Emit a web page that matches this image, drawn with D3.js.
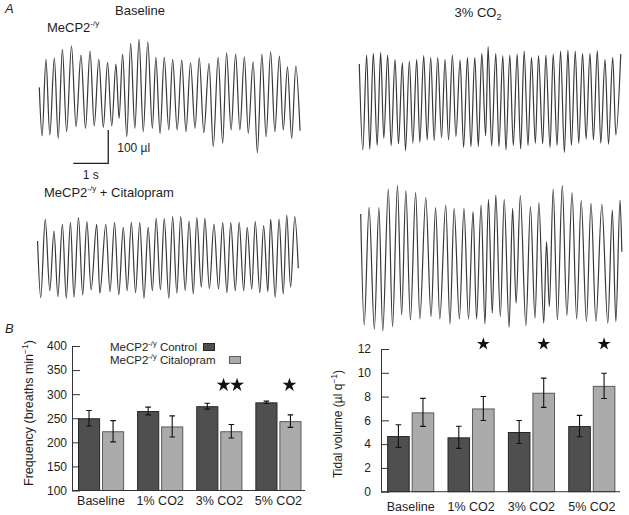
<!DOCTYPE html>
<html><head><meta charset="utf-8">
<script src="https://cdn.jsdelivr.net/npm/d3@7"></script>
<style>
body{margin:0;background:#fff}
svg{display:block}
text{font-family:"Liberation Sans",Arial,Helvetica,sans-serif;fill:#1e1e1e}
</style>
</head><body>
<svg id="c" width="629" height="515"></svg>
<script>
// ---------- Panel B data ----------
const categories = ["Baseline", "1% CO2", "3% CO2", "5% CO2"];
const groups = ["Control", "Citalopram"];
const freqControl = [250, 265, 275, 283];
const freqControlErr = [16, 8, 6, 2.5];
const freqCitalopram = [223, 233, 223, 244];
const freqCitalopramErr = [22, 22, 14, 13];
const vtControl = [4.68, 4.57, 5.02, 5.52];
const vtControlErr = [0.95, 0.93, 0.97, 0.9];
const vtCitalopram = [6.67, 7.0, 8.32, 8.9];
const vtCitalopramErr = [1.18, 1.01, 1.23, 1.06];
const freqTicks = [100, 150, 200, 250, 300, 350, 400];
const vtTicks = [0, 2, 4, 6, 8, 10, 12];
const freqStars = [0, 0, 2, 1];   // significance stars above citalopram bars
const vtStars = [0, 1, 1, 1];

// ---------- Panel A data: breathing traces (time s, volume µl at each extremum) ----------
const trace1T = [0.00,0.08,0.19,0.30,0.43,0.54,0.66,0.78,0.92,1.05,1.19,1.32,1.45,1.57,1.70,1.83,1.95,2.07,2.19,2.28,2.38,2.50,2.61,2.73,2.85,2.97,3.10,3.23,3.33,3.45,3.57,3.70,3.81,3.94,4.07,4.19,4.32,4.45,4.57,4.70,4.85,4.97,5.11,5.24,5.35,5.48,5.61,5.73,5.86,5.97,6.11,6.23,6.36,6.48,6.61,6.73,6.86,6.97,7.09,7.21,7.33,7.45];
const trace1V = [28,-118,112,-115,117,-125,142,-105,153,-90,125,-95,137,-88,112,-92,103,-88,98,-65,128,-120,160,-95,172,-105,165,-95,118,-110,118,-100,112,-100,110,-105,102,-95,117,-108,100,-150,118,-140,132,-100,128,-100,120,-110,105,-168,128,-120,135,-105,122,-100,90,-125,92,-102];

const trace2T = [0.00,0.10,0.21,0.30,0.40,0.51,0.61,0.70,0.81,0.91,1.02,1.12,1.23,1.32,1.43,1.53,1.64,1.73,1.84,1.94,2.04,2.14,2.24,2.35,2.45,2.55,2.66,2.76,2.88,2.98,3.09,3.19,3.30,3.40,3.50,3.61,3.68,3.78,3.90,3.99,4.10,4.19,4.30,4.40,4.51,4.61,4.71,4.82,4.92,5.03,5.12,5.24,5.33,5.45,5.54,5.65,5.75,5.86,5.96,6.06,6.17,6.27,6.38,6.48,6.59,6.69,6.80,6.90,7.02,7.12,7.24,7.33,7.47];
const trace2V = [108,-150,135,-148,140,-137,143,-115,135,-137,122,-132,112,-152,117,-130,122,-127,133,-120,128,-122,128,-113,122,-120,135,-110,120,-143,128,-140,128,-140,140,-108,160,-138,140,-140,133,-150,135,-137,138,-147,147,-137,128,-130,133,-132,135,-143,138,-137,147,-158,150,-137,147,-130,140,-118,140,-120,148,-130,122,-133,128,-105,138];

const trace3T = [-0.05,0.04,0.17,0.30,0.42,0.53,0.66,0.77,0.89,0.99,1.12,1.24,1.36,1.48,1.64,1.73,1.90,2.02,2.15,2.27,2.40,2.51,2.63,2.75,2.87,2.99,3.11,3.23,3.34,3.46,3.57,3.70,3.81,3.93,4.04,4.17,4.28,4.40,4.50,4.63,4.73,4.86,4.99,5.12,5.24,5.36,5.47,5.60,5.71,5.84,5.94,6.07,6.17,6.30,6.41,6.53,6.61,6.74,6.85,6.97,7.07,7.18,7.30,7.40];
const trace3V = [52,-118,117,-97,82,-115,102,-120,108,-117,122,-110,110,-95,102,-105,102,-100,107,-110,93,-97,108,-103,107,-120,93,-97,120,-95,119,-120,125,-105,125,-97,112,-107,122,-87,120,-91,103,-92,107,-103,107,-97,108,-97,93,-93,110,-103,98,-100,117,-117,118,-107,130,-87,125,-30];

const trace4T = [0.04,0.14,0.28,0.43,0.56,0.67,0.83,0.95,1.09,1.21,1.33,1.46,1.61,1.73,1.90,2.05,2.18,2.30,2.47,2.59,2.71,2.86,2.99,3.12,3.25,3.35,3.48,3.59,3.69,3.80,3.90,4.03,4.14,4.28,4.38,4.48,4.60,4.76,4.89,5.02,5.13,5.27,5.35,5.43,5.54,5.66,5.80,5.93,6.08,6.21,6.34,6.49,6.62,6.76,6.93,7.10,7.23,7.33,7.45,7.50];
const trace4V = [133,-200,153,-213,152,-218,207,-205,218,-170,203,-185,197,-182,182,-175,152,-182,160,-197,150,-182,150,-183,140,-182,160,-197,177,-165,190,-175,177,-207,150,-135,188,-202,155,-180,167,-195,50,-145,208,-185,218,-172,197,-182,173,-190,165,-190,162,-195,145,-190,175,20];

const scaleBarSeconds = 1;
const scaleBarVolume = 100;

// ---------- drawing ----------
const svg = d3.select("#c");
const FONT = 13;

// Panel A
const txL = d3.scaleLinear().domain([0, 7.5]).range([39.3, 301.8]);
const txR = d3.scaleLinear().domain([0, 7.5]).range([359.3, 621.8]);
function vScale(mid) { return d3.scaleLinear().domain([0, 100]).range([mid, mid - 33.3]); }
const traces = [
  {T: trace1T, V: trace1V, x: txL, y: vScale(96.7)},
  {T: trace2T, V: trace2V, x: txR, y: vScale(100)},
  {T: trace3T, V: trace3V, x: txL, y: vScale(258.3)},
  {T: trace4T, V: trace4V, x: txR, y: vScale(258.3)}
];
traces.forEach(tr => {
  const n = Math.min(tr.T.length, tr.V.length);
  const pts = d3.range(n).map(i => [tr.T[i], tr.V[i]]);
  const line = d3.line().x(d => tr.x(d[0])).y(d => tr.y(d[1])).curve(d3.curveMonotoneX);
  svg.append("path").attr("d", line(pts)).attr("fill", "none")
    .attr("stroke", "#383838").attr("stroke-width", 1.2).attr("stroke-linejoin", "round");
});

// scale bar (uses trace-1 scales)
{
  const ys = traces[0].y;
  const sbx = txL(1.97), sbyBottom = 163.3;
  const hLen = txL(scaleBarSeconds) - txL(0);
  const vLen = ys(0) - ys(scaleBarVolume);
  svg.append("path").attr("d", `M${sbx - hLen},${sbyBottom}H${sbx}V${sbyBottom - vLen}`)
    .attr("fill", "none").attr("stroke", "#222").attr("stroke-width", 1.3);
  svg.append("text").attr("x", sbx + 9).attr("y", 152).attr("font-size", 12).text("100 µl");
  svg.append("text").attr("x", sbx - hLen / 2).attr("y", 179).attr("font-size", 12)
    .attr("text-anchor", "middle").text("1 s");
}

// Panel A labels
svg.append("text").attr("x", 5).attr("y", 13).attr("font-size", FONT).attr("font-style", "italic").text("A");
svg.append("text").attr("x", 115).attr("y", 15).attr("font-size", FONT).text("Baseline");
{
  const t = svg.append("text").attr("x", 478).attr("y", 17).attr("font-size", FONT).attr("text-anchor", "middle");
  t.append("tspan").text("3% CO");
  t.append("tspan").attr("dy", 3).attr("font-size", 9).text("2");
}
{
  const t = svg.append("text").attr("x", 47).attr("y", 32).attr("font-size", FONT);
  t.append("tspan").text("MeCP2");
  t.append("tspan").attr("dy", -6).attr("font-size", 8).text("-/y");
}
{
  const t = svg.append("text").attr("x", 44).attr("y", 196.5).attr("font-size", FONT);
  t.append("tspan").text("MeCP2");
  t.append("tspan").attr("dy", -6).attr("font-size", 8).text("-/y");
  t.append("tspan").attr("dy", 6).text(" + Citalopram");
}
svg.append("text").attr("x", 5).attr("y", 333).attr("font-size", FONT).attr("font-style", "italic").text("B");

// Panel B bar charts
const colControl = "#4f4f4f", colCit = "#ababab";
function barChart(o) {
  const g = svg.append("g");
  const x = d3.scaleBand().domain(categories).range(o.xr).padding(0);
  const sub = d3.scaleBand().domain(groups).range([0, x.bandwidth()]).paddingInner(0.08).paddingOuter(0.27);
  const y = o.y;
  const series = [
    {key: "Control", v: o.ctrl, e: o.ctrlErr, fill: colControl, stroke: "#262626"},
    {key: "Citalopram", v: o.cit, e: o.citErr, fill: colCit, stroke: "#5a5a5a"}
  ];
  const base = y.domain()[0];
  series.forEach(s => {
    categories.forEach((c, i) => {
      const bx = x(c) + sub(s.key), bw = sub.bandwidth();
      g.append("rect").attr("x", bx + 0.5).attr("y", y(s.v[i]) + 0.5)
        .attr("width", bw - 1).attr("height", y(base) - y(s.v[i]) - 0.5)
        .attr("fill", s.fill).attr("stroke", s.stroke).attr("stroke-width", 1);
      const cx = bx + bw / 2;
      const yt = y(s.v[i] + s.e[i]), yb = y(s.v[i] - s.e[i]);
      g.append("path").attr("d", `M${cx},${yt}V${yb}M${cx - 2.8},${yt}H${cx + 2.8}M${cx - 2.8},${yb}H${cx + 2.8}`)
        .attr("stroke", "#111").attr("stroke-width", 1.1).attr("fill", "none");
    });
  });
  // stars
  categories.forEach((c, i) => {
    const n = o.stars[i];
    if (!n) return;
    const cx = x(c) + sub("Citalopram") + sub.bandwidth() / 2 + o.starDx;
    for (let k = 0; k < n; k++) {
      const sx = cx + (k - (n - 1) / 2) * 13.5;
      g.append("path").attr("d", d3.symbol().type(d3.symbolStar).size(o.starSize)())
        .attr("transform", `translate(${sx},${o.starY})`).attr("fill", "#111");
    }
  });
  // y axis
  const ax = g.append("g").attr("transform", `translate(${o.xr[0] + 0.5},0)`)
    .call(d3.axisLeft(y).tickValues(o.ticks).tickSizeInner(-8).tickSizeOuter(0).tickPadding(o.tickPad));
  ax.select(".domain").attr("stroke", "#333");
  ax.selectAll(".tick line").attr("stroke", "#333");
  ax.selectAll(".tick text").attr("font-size", 12).attr("font-family", "Liberation Sans, Arial, sans-serif").attr("fill", "#1e1e1e");
  // baseline
  g.append("line").attr("x1", o.xr[0] + 0.5).attr("x2", o.xEnd).attr("y1", y(base)).attr("y2", y(base))
    .attr("stroke", "#333").attr("stroke-width", 1);
  // category labels
  categories.forEach(c => {
    g.append("text").attr("x", x(c) + x.bandwidth() / 2).attr("y", o.labelY)
      .attr("text-anchor", "middle").attr("font-size", 12.5).text(c);
  });
  return {x, sub, y};
}

const yFreq = d3.scaleLinear().domain([100, 400]).range([490.5, 346]);
barChart({xr: [71.5, 308], xEnd: 305, y: yFreq, ticks: freqTicks, tickPad: 5,
  ctrl: freqControl, ctrlErr: freqControlErr, cit: freqCitalopram, citErr: freqCitalopramErr,
  stars: freqStars, starY: yFreq.range()[1] + 39, starSize: 60, starDx: -1, labelY: 505});

const yVt = d3.scaleLinear().domain([0, 12]).range([491.7, 349]);
barChart({xr: [380.5, 622], xEnd: 620, y: yVt, ticks: vtTicks, tickPad: 10,
  ctrl: vtControl, ctrlErr: vtControlErr, cit: vtCitalopram, citErr: vtCitalopramErr,
  stars: vtStars, starY: yVt.range()[1] - 5, starSize: 52, starDx: 0, labelY: 511});

// axis titles
{
  const t = svg.append("text").attr("transform", "translate(33,413) rotate(-90)")
    .attr("text-anchor", "middle").attr("font-size", 12.5);
  t.append("tspan").text("Frequency (breaths min");
  t.append("tspan").attr("dy", -5).attr("font-size", 8.5).text("−1");
  t.append("tspan").attr("dy", 5).text(")");
}
{
  const t = svg.append("text").attr("transform", "translate(342,424) rotate(-90)")
    .attr("text-anchor", "middle").attr("font-size", 12);
  t.append("tspan").text("Tidal volume (µl q");
  t.append("tspan").attr("dy", -5).attr("font-size", 8.5).text("−1");
  t.append("tspan").attr("dy", 5).text(")");
}

// legend
[["Control", colControl, "#262626", 351, 203], ["Citalopram", colCit, "#5a5a5a", 364, 229]].forEach(([name, fill, stroke, ly, sqx]) => {
  const t = svg.append("text").attr("x", 110).attr("y", ly).attr("font-size", 11.5);
  t.append("tspan").text("MeCP2");
  t.append("tspan").attr("dy", -5).attr("font-size", 7.5).text("-/y");
  t.append("tspan").attr("dy", 5).text(" " + name);
  svg.append("rect").attr("x", sqx + 0.5).attr("y", ly - 7.5).attr("width", 11).attr("height", 7)
    .attr("fill", fill).attr("stroke", stroke);
});
</script>
</body></html>
